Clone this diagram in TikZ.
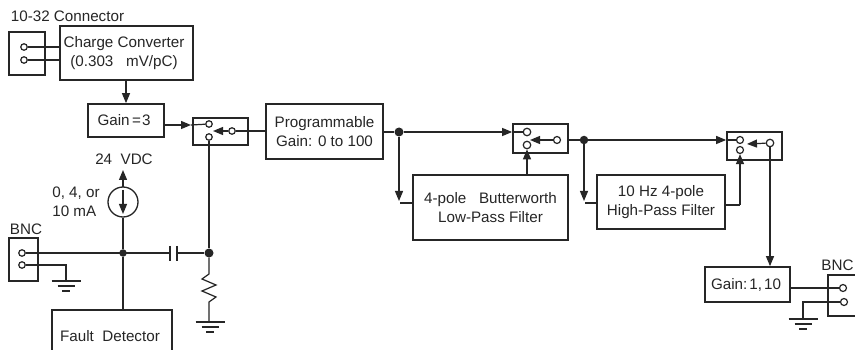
\documentclass[tikz,border=0pt]{standalone}
\usepackage{fontspec}
\setmainfont{Liberation Sans}
\usetikzlibrary{arrows.meta}
\tikzset{
    every node/.style={font=\fontsize{15.2}{18.5}\selectfont, text=black!85},
    block/.style={rectangle, draw=black!85, line width=1.7pt, inner sep=0pt, align=center},
    term/.style={circle, draw=black!85, fill=white, line width=1.2pt, minimum size=6.5pt, inner sep=0pt},
    junction/.style={circle, fill=black!85, minimum size=7.5pt, inner sep=0pt},
    label/.style={inner sep=0pt, align=left},
    wire/.style={draw=black!85, line width=1.2pt},
    flow/.style={wire, -{Triangle[length=10pt,width=8pt]}},
    earth/.pic={
        \draw[wire] (-14.5,0) -- (14.5,0);
        \draw[wire] (-8.5,5) -- (8.5,5);
        \draw[wire] (-4,10) -- (4,10);
    }
}

\begin{document}
\begin{tikzpicture}[x=1pt,y=-1pt]
  \clip (0,0) rectangle (855,350);
  \useasboundingbox (0,0) rectangle (855,350);
  \fill[white] (0,0) rectangle (855,350);

  % input side
  \node (conn) [block, minimum width=36pt, minimum height=43pt] at (27,53.5) {};
  \node (connlabel) [label] at (67.5,16) {10-32 Connector};
  \node (charge) [block, minimum width=133pt, minimum height=54pt] at (126.5,53) {\hspace*{-5pt}Charge\ Converter\\\hspace*{-5pt}(0.303\ \ \ mV/pC)};
  \node (c1) [term] at (24,47) {};
  \node (c2) [term] at (24,60) {};
  \node (gain3) [block, minimum width=76pt, minimum height=33pt] at (126,120.5) {\hspace*{-4pt}Gain\hspace{2.5pt}=\hspace{1pt}3};

  \node (sw1) [block, minimum width=55pt, minimum height=27pt] at (220.5,131.5) {};
  \node (sw1a) [term] at (209,124) {};
  \node (sw1b) [term] at (209,137) {};
  \node (sw1c) [term] at (232,131) {};
  \coordinate (tip1) at (191,125);

  \node (prog) [block, minimum width=117pt, minimum height=55pt] at (324.5,131.5) {Programmable\\Gain: 0 to 100};

  % source and BNC
  \node (vdc) [label] at (124,159) {24\ \ VDC};
  \node (src) [circle, draw=black!85, line width=1.3pt, minimum size=30pt, inner sep=0pt] at (123,202) {};
  \coordinate (srctop) at (123,190);
  \coordinate (srcbot) at (123,214);
  \coordinate (vdctip) at (123,170);
  \node (malabel) [label] at (76,202) {0,\ 4, or\\10 mA};
  \node (bnc1) [block, minimum width=29pt, minimum height=43pt] at (23.5,259.5) {};
  \node (bnc1label) [label] at (26,229) {BNC};
  \node (b1) [term] at (22,253) {};
  \node (b2) [term] at (22,265) {};
  \node (j1) [junction] at (123,253) {};
  \node (j2) [junction, minimum size=9pt] at (209,253) {};
  \node (fault) [block, minimum width=120pt, minimum height=60pt, text depth=0pt] at (112,340) {};
  \node (faultlabel) [label] at (110,336) {Fault\ \ Detector};
  \coordinate (capa) at (170,253);
  \coordinate (capb) at (177,253);
  \coordinate (gnd1) at (66,281);
  \coordinate (rtop) at (209,274);
  \coordinate (rbot) at (209,302);
  \coordinate (gnd2) at (210,322);

  % filters
  \node (j3) [junction, minimum size=9pt] at (399,132) {};
  \node (sw2) [block, minimum width=55pt, minimum height=29pt] at (540.5,138.5) {};
  \node (sw2a) [term, minimum size=7.5pt] at (527,132) {};
  \node (sw2b) [term, minimum size=7.5pt] at (527,145) {};
  \node (sw2c) [term, minimum size=7pt] at (557,140) {};
  \node (lpf) [block, minimum width=155pt, minimum height=65pt] at (490.5,207.5) {4-pole\ \ \ Butterworth\\Low-Pass Filter};
  \node (j4) [junction, minimum size=8.5pt] at (584,140) {};
  \node (hpf) [block, minimum width=128pt, minimum height=54pt] at (661,202) {10 Hz 4-pole\\High-Pass Filter};
  \coordinate (lptip) at (399,201);
  \coordinate (hptip) at (584,201);
  \coordinate (hpbend) at (740,205);

  % output side
  \node (sw3) [block, minimum width=55pt, minimum height=28pt] at (754.5,146) {};
  \node (sw3a) [term, minimum size=7pt] at (740,140) {};
  \node (sw3b) [term, minimum size=7pt] at (740,150) {};
  \node (sw3c) [term, minimum size=7.5pt] at (770,143) {};
  \node (gainout) [block, minimum width=85pt, minimum height=35pt] at (747.5,284.5) {\hspace*{-3pt}Gain:\hspace{2pt}1,\hspace{2pt}10};
  \node (bnc2) [block, minimum width=36pt, minimum height=41pt] at (846,295.5) {};
  \node (bnc2label) [label] at (837.5,265) {BNC};
  \node (o1) [term, minimum size=7pt] at (843,288) {};
  \node (o2) [term, minimum size=7pt] at (844,302) {};
  \coordinate (gndbend) at (803,302);
  \coordinate (gnd3) at (803,319);

  \draw[wire] (c1) -- (charge.west |- c1);
  \draw[wire] (c2) -- (charge.west |- c2);
  \draw[flow] (charge.south -| gain3) -- (gain3);
  \draw[flow] (gain3.east |- tip1) -- (tip1);
  \draw[wire] (tip1) -- (sw1a);
  \draw[flow] (sw1c) -- (213,131);
  \draw[wire] (prog.west |- sw1c) -- (sw1c);
  \draw[wire] (sw1b) -- (j2);

  \draw[flow] (123,187) -- (vdctip);
  \draw[flow] (srctop) -- (srcbot);
  \draw[wire] (src) -- (j1);
  \draw[wire] (j1) -- (fault.north -| j1);
  \draw[wire] (b1) -- (capa);
  \draw[wire] (capb) -- (j2);
  \draw[wire] (170,246) -- (170,261);
  \draw[wire] (177,246) -- (177,261);
  \draw[wire] (b2) -- (66,265) -- (gnd1);
  \pic at (gnd1) {earth};
  \draw[wire] (j2) -- (rtop) -- (202,279) -- (216,285) -- (202,291) -- (216,297) -- (rbot) -- (209,321);
  \pic at (gnd2) {earth};

  \draw[wire] (prog.east |- j3) -- (j3);
  \draw[flow] (j3) -- (sw2.west |- j3);
  \draw[wire] (sw2.west |- j3) -- (sw2a);
  \draw[flow] (j3) -- (lptip);
  \draw[wire] (400,203) -- (lpf.west |- 400,203);
  \draw[flow] (lpf.north -| sw2b) -- (sw2b);
  \draw[flow] (sw2c) -- (530,140);
  \draw[wire] (sw2.east |- sw2c) -- (j4);
  \draw[flow] (j4) -- (sw3.west |- j4);
  \draw[wire] (sw3.west |- j4) -- (sw3a);
  \draw[flow] (j4) -- (hptip);
  \draw[wire] (585,203) -- (hpf.west |- 585,203);
  \draw[wire] (hpf.east |- hpbend) -- (hpbend);
  \draw[flow] (hpbend) -- (sw3b);
  \draw[flow] (sw3c) -- (747,144);
  \draw[flow] (sw3c) -- (gainout.north -| sw3c);
  \draw[wire] (gainout.east |- o1) -- (o1);
  \draw[wire] (o2) -- (gndbend) -- (gnd3);
  \pic at (gnd3) {earth};
\end{tikzpicture}
\end{document}
